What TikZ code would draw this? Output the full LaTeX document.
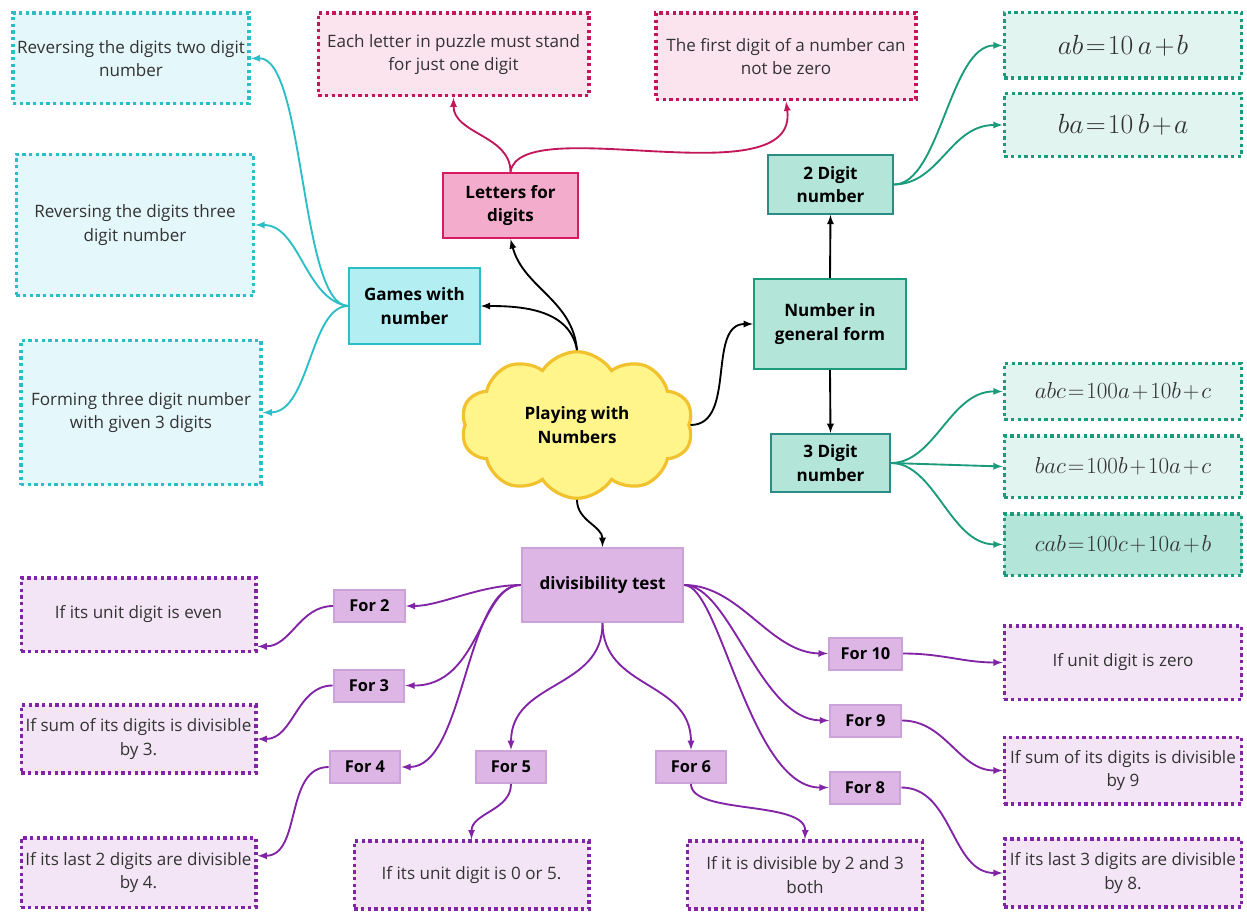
\documentclass[tikz,border=0pt]{standalone}
\usepackage{fontspec}
\setmainfont{Open Sans}
\usetikzlibrary{shapes.symbols, arrows}
\definecolor{cyanline}{HTML}{2BBEC6}
\definecolor{cyanfill}{HTML}{E4F7FA}
\definecolor{cyanmain}{HTML}{B2EEF2}
\definecolor{pinkline}{HTML}{C2185B}
\definecolor{pinkfill}{HTML}{FCE4EE}
\definecolor{pinkmain}{HTML}{F4ACCD}
\definecolor{pinkedge}{HTML}{D81B60}
\definecolor{tealline}{HTML}{1A9B7B}
\definecolor{tealfill}{HTML}{E2F4EF}
\definecolor{tealmain}{HTML}{B4E5D9}
\definecolor{tealedge}{HTML}{2A8C85}
\definecolor{purpline}{HTML}{8224A6}
\definecolor{purpfill}{HTML}{F3E5F5}
\definecolor{purpmain}{HTML}{DDB6E6}
\definecolor{purpedge}{HTML}{CBA3D9}
\definecolor{cloudfill}{HTML}{FFF58A}
\definecolor{cloudedge}{HTML}{F2C12E}
\definecolor{inkgray}{HTML}{333333}
\newcommand{\eqn}[1]{\medmuskip=1.5mu\thickmuskip=1.5mu$#1$}

\begin{document}
\begin{tikzpicture}
                        [
                            x=0.75pt, y=-0.75pt,
                            every node/.style = {align=center, text=inkgray, font=\fontsize{12.8}{17.5}\selectfont},
                            dotbox/.style = {draw, shape=rectangle, line width=2.5pt, dash pattern=on 2.5pt off 2.5pt, inner sep=1pt},
                            mainbox/.style = {draw, shape=rectangle, line width=1.5pt, font=\bfseries\fontsize{12.8}{17.5}\selectfont, text=black},
                            forbox/.style = {mainbox, fill=purpmain, draw=purpedge, minimum width=53pt, minimum height=24pt, inner sep=2pt, font=\bfseries\fontsize{12.3}{17}\selectfont},
                            cyanbox/.style = {dotbox, draw=cyanline, fill=cyanfill},
                            pinkbox/.style = {dotbox, draw=pinkline, fill=pinkfill},
                            tealbox/.style = {dotbox, draw=tealline, fill=tealfill, minimum width=178pt, font=\fontsize{17.5}{20}\selectfont},
                            purpbox/.style = {dotbox, draw=purpline, fill=purpfill, minimum width=176pt},
                            conn/.style = {-latex, line width=1.4pt},
                        ]

                        \useasboundingbox (0,0) rectangle (1247,913);

                        % centre
                        \node[cloud, cloud puffs=10, cloud puff arc=115, aspect=1.6, draw=cloudedge, fill=cloudfill, line width=2.4pt,
                              minimum width=174pt, minimum height=110pt, font=\bfseries\fontsize{12.8}{17.5}\selectfont, text=black] (play) at (577,425) {Playing with\\Numbers};

                        % games
                        \node[mainbox, fill=cyanmain, draw=cyanline, minimum width=98pt, minimum height=57pt] (games) at (414.5,306) {Games with\\number};
                        \node[cyanbox, minimum width=177pt, minimum height=68pt] (rev2) at (131,58.5) {Reversing the digits two digit\\number};
                        \node[cyanbox, minimum width=178pt, minimum height=106pt] (rev3) at (135,225) {Reversing the digits three\\digit number};
                        \node[cyanbox, minimum width=180pt, minimum height=108pt] (form3) at (141,412.5) {Forming three digit number\\with given 3 digits};

                        % letters
                        \node[mainbox, fill=pinkmain, draw=pinkedge, minimum width=101pt, minimum height=49pt] (letters) at (510.5,205.5) {Letters for\\digits};
                        \node[pinkbox, minimum width=203pt, minimum height=62pt] (each) at (453.5,54.5) {Each letter in puzzle must stand\\for just one digit};
                        \node[pinkbox, minimum width=195pt, minimum height=65pt] (first) at (786,56.5) {The first digit of a number can\\not be zero};

                        % general form
                        \node[mainbox, fill=tealmain, draw=tealline, minimum width=114pt, minimum height=67.5pt] (general) at (830,324) {Number in\\general form};
                        \node[mainbox, fill=tealmain, draw=tealedge, minimum width=94pt, minimum height=44pt] (two) at (830.5,184.5) {2 Digit\\number};
                        \node[mainbox, fill=tealmain, draw=tealedge, minimum width=89pt, minimum height=43.5pt] (three) at (830.5,463) {3 Digit\\number};
                        \node[tealbox, minimum height=49pt, font=\fontsize{20}{22}\selectfont] (ab) at (1123,45.5) {\eqn{ab=10\,a+b}};
                        \node[tealbox, minimum height=47pt, font=\fontsize{20}{22}\selectfont] (ba) at (1123,125) {\eqn{ba=10\,b+a}};
                        \node[tealbox, minimum height=42pt] (abc) at (1123,391.5) {\eqn{abc=100a+10b+c}};
                        \node[tealbox, minimum height=46pt] (bac) at (1123,466.5) {\eqn{bac=100b+10a+c}};
                        \node[tealbox, fill=tealmain, minimum height=46pt, font=\fontsize{18.5}{20}\selectfont] (cab) at (1123,544.5) {\eqn{cab=100c+10a+b}};

                        % divisibility
                        \node[mainbox, fill=purpmain, draw=purpedge, minimum width=121pt, minimum height=55.5pt] (div) at (602.5,585) {divisibility test};
                        \node[forbox] (f2) at (369.5,606) {For 2};
                        \node[forbox] (f3) at (369,685.5) {For 3};
                        \node[forbox] (f4) at (365,767) {For 4};
                        \node[forbox] (f5) at (511,767) {For 5};
                        \node[forbox] (f6) at (691,767) {For 6};
                        \node[forbox, minimum width=55pt] (f10) at (865.5,653.5) {For 10};
                        \node[forbox] (f9) at (865.5,720.5) {For 9};
                        \node[forbox] (f8) at (865,787.5) {For 8};
                        \node[purpbox, minimum height=55pt] (u2) at (138.5,614.5) {If its unit digit is even};
                        \node[purpbox, minimum height=51pt] (u3) at (138.5,739) {If sum of its digits is divisible\\by 3.};
                        \node[purpbox, minimum height=52pt] (u4) at (138.5,872.5) {If its last 2 digits are divisible\\by 4.};
                        \node[purpbox, minimum height=51pt] (u5) at (471.5,875) {If its unit digit is 0 or 5.};
                        \node[purpbox, minimum height=51pt] (u6) at (805,875) {If it is divisible by 2 and 3\\both};
                        \node[purpbox, minimum width=178pt, minimum height=55pt] (u10) at (1123,662.5) {If unit digit is zero};
                        \node[purpbox, minimum width=178pt, minimum height=50pt] (u9) at (1123,770.5) {If sum of its digits is divisible\\by 9};
                        \node[purpbox, minimum width=178pt, minimum height=51pt] (u8) at (1123,873) {If its last 3 digits are divisible\\by 8.};

                        % from the cloud
                        \draw [conn] (play.north) to[out=95, in=-75] (letters.south);
                        \draw [conn] (play.north) to[out=100, in=0] (games.east);
                        \draw [conn] (play.east) to[out=0, in=180] (general.west);
                        \draw [conn] (play.south) to[out=-90, in=90] (div.north);

                        \draw [conn, cyanline] (games.west) .. controls (300,306) and (305,57) .. (rev2.east);
                        \draw [conn, cyanline] (games.west) .. controls (305,300) and (300,225) .. (rev3.east);
                        \draw [conn, cyanline] (games.west) .. controls (310,306) and (310,412) .. (form3.east);

                        \draw [conn, pinkline] (letters.north) to[out=90, in=-90] (each.south);
                        \draw [conn, pinkline] (letters.north) .. controls (520,110) and (800,200) .. (first.south);

                        \draw [conn] (general.north) -- (two.south);
                        \draw [conn] (general.south) -- (three.north);
                        \draw [conn, tealline] (two.east) .. controls (940,184) and (950,45) .. (ab.west);
                        \draw [conn, tealline] (two.east) .. controls (940,184) and (950,125) .. (ba.west);
                        \draw [conn, tealline] (three.east) .. controls (935,463) and (950,391) .. (abc.west);
                        \draw [conn, tealline] (three.east) -- (bac.west);
                        \draw [conn, tealline] (three.east) .. controls (935,463) and (950,544) .. (cab.west);

                        \draw [conn, purpline] (div.west) .. controls (480,585) and (440,606) .. (f2.east);
                        \draw [conn, purpline] (div.west) .. controls (480,585) and (480,686) .. (f3.east);
                        \draw [conn, purpline] (div.west) .. controls (465,585) and (465,767) .. (f4.east);
                        \draw [conn, purpline] (div.south) .. controls (603,690) and (511,680) .. (f5.north);
                        \draw [conn, purpline] (div.south) .. controls (603,690) and (691,680) .. (f6.north);
                        \draw [conn, purpline] (div.east) .. controls (740,585) and (770,653) .. (f10.west);
                        \draw [conn, purpline] (div.east) .. controls (730,585) and (760,720) .. (f9.west);
                        \draw [conn, purpline] (div.east) .. controls (720,585) and (750,788) .. (f8.west);

                        \draw [conn, purpline] (f2.west) to[out=180, in=0] (u2.-15);
                        \draw [conn, purpline] (f3.west) to[out=180, in=0] (u3.east);
                        \draw [conn, purpline] (f4.west) to[out=180, in=0] (u4.8);
                        \draw [conn, purpline] (f5.south) to[out=-90, in=90] (u5.north);
                        \draw [conn, purpline] (f6.south) .. controls (691,815) and (806,800) .. (u6.north);
                        \draw [conn, purpline] (f10.east) to[out=0, in=180] (u10.west);
                        \draw [conn, purpline] (f9.east) to[out=0, in=180] (u9.west);
                        \draw [conn, purpline] (f8.east) to[out=0, in=180] (u8.west);

                    \end{tikzpicture}
\end{document}
